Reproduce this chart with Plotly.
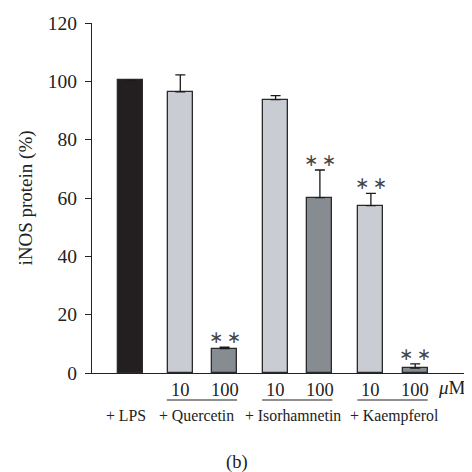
import plotly.graph_objects as go

# ---- data ----
conditions = ["+ LPS", "+ Quercetin", "+ Quercetin", "+ Isorhamnetin", "+ Isorhamnetin", "+ Kaempferol", "+ Kaempferol"]
doses = ["", "10", "100", "10", "100", "10", "100"]
values = [100.3, 96.4, 8.4, 93.7, 60.1, 57.4, 1.7]
err_up = [0.0, 5.8, 0.5, 1.4, 9.5, 4.2, 1.4]
significant = [False, False, True, False, True, True, True]
groups = ["+ LPS", "+ Quercetin", "+ Isorhamnetin", "+ Kaempferol"]
yticks = [0, 20, 40, 60, 80, 100, 120]

# ---- layout constants (positions, styles) ----
bar_w = 25
first_x = 38.7
group_start = 88.3
group_step = 95.3
pair_gap = 44.3
xs = [first_x]
for g in range(3):
    xs.append(group_start + g * group_step)
    xs.append(group_start + g * group_step + pair_gap)
label_shifts = [-4.5, -6, -5, 1]

BLACK = "#231f20"
LIGHT = "#c9ccd3"
DARK = "#878c93"
colors = [BLACK] + [LIGHT, DARK] * 3
FONT = "Liberation Serif"

fig = go.Figure()
fig.add_trace(go.Bar(
    x=xs, y=values, width=[bar_w] * len(xs),
    marker=dict(color=colors, line=dict(color="#2a2a2a", width=1.3)),
    error_y=dict(type="data", symmetric=False, array=err_up,
                 arrayminus=[0] * len(err_up), color="#1a1a1a",
                 thickness=1.3, width=5, visible=True),
    showlegend=False, hoverinfo="skip",
))

annotations = []
shapes = []
# significance stars
for x, v, e, s in zip(xs, values, err_up, significant):
    if s:
        annotations.append(dict(x=x, y=v + e, xref="x", yref="y", text="∗\u2009∗",
                                showarrow=False, yanchor="middle", yshift=10,
                                font=dict(family="DejaVu Sans", size=17, color="#444")))
# dose labels
for x, d in zip(xs, doses):
    if d:
        annotations.append(dict(x=x, y=-0.0477, xref="x", yref="paper", text=d,
                                showarrow=False, yanchor="middle",
                                font=dict(family=FONT, size=18.5, color="#222")))
annotations.append(dict(x=xs[-1] + 37, y=-0.0405, xref="x", yref="paper", text="<i>μ</i>M",
                        showarrow=False, yanchor="middle",
                        font=dict(family=FONT, size=19, color="#222")))
# group overlines
for g in range(3):
    x0 = xs[1 + 2 * g] - bar_w / 2 - 1
    x1 = xs[2 + 2 * g] + bar_w / 2
    shapes.append(dict(type="line", xref="x", yref="paper", x0=x0, x1=x1,
                       y0=-0.0771, y1=-0.0771, line=dict(color="#222", width=1.2)))
# group names
group_centers = [xs[0]] + [(xs[1 + 2 * g] + xs[2 + 2 * g]) / 2 for g in range(3)]
for gx, name, sh in zip(group_centers, groups, label_shifts):
    annotations.append(dict(x=gx, y=-0.122, xref="x", yref="paper", text=name,
                            showarrow=False, yanchor="middle", xshift=sh,
                            font=dict(family=FONT, size=15.8, color="#222")))
annotations.append(dict(x=0.387, y=-0.2546, xref="paper", yref="paper", text="(b)",
                        showarrow=False, yanchor="middle",
                        font=dict(family=FONT, size=18.5, color="#222")))

fig.update_layout(
    width=464, height=464,
    margin=dict(l=84, r=5, t=15, b=99),
    paper_bgcolor="white", plot_bgcolor="white",
    font=dict(family=FONT, size=19, color="#222"),
    bargap=0,
    xaxis=dict(range=[0, 375], showline=True, linecolor="#222", linewidth=1.3,
               showticklabels=False, ticks="", showgrid=False, zeroline=False, fixedrange=True),
    yaxis=dict(range=[0, 120], tickvals=yticks, showline=True, linecolor="#222",
               linewidth=1.3, ticks="outside", ticklen=6, tickwidth=1.3, tickcolor="#222",
               showgrid=False, zeroline=False, ticklabelstandoff=4,
               title=dict(text="iNOS protein (%)", font=dict(family=FONT, size=19), standoff=10),
               tickfont=dict(family=FONT, size=19.5)),
    annotations=annotations,
    shapes=shapes,
)

fig.write_html("out.html")
